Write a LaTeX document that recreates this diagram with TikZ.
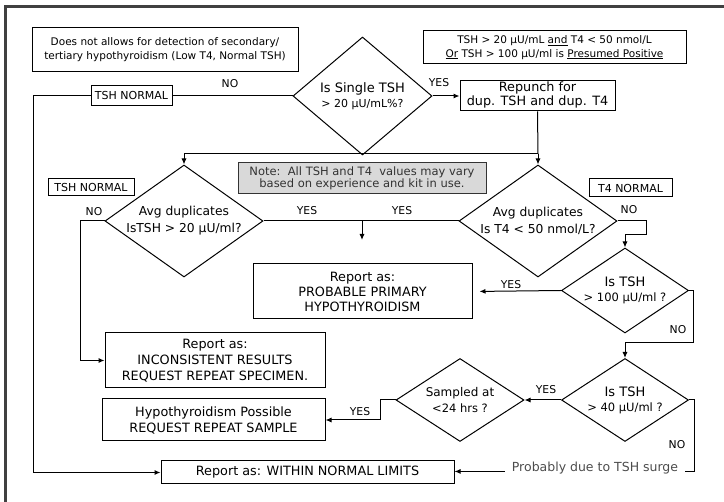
\documentclass[tikz,border=0pt]{standalone}
\usepackage{fontspec}
\setmainfont{DejaVu Sans}
\usetikzlibrary{positioning,arrows.meta,shapes.geometric}

\begin{document}
\begin{tikzpicture}[x=1pt, y=-1pt,
  every node/.style={font=\fontsize{12.8}{16}\selectfont},
  box/.style 2 args={draw, line width=1pt, inner sep=0pt, align=center, minimum width=#1pt, minimum height=#2pt},
  dia/.style 2 args={diamond, draw, line width=1pt, inner sep=0pt, minimum width=#1pt, minimum height=#2pt},
  dtxt/.style={inner sep=0pt, align=center},
  tag/.style={draw, fill=white, line width=1pt, inner sep=0pt, font=\fontsize{11}{13}\selectfont},
  lbl/.style={inner sep=0pt, font=\fontsize{10.8}{12}\selectfont},
  link/.style={line width=1pt},
  arr/.style={link, -{Latex[length=6pt,width=5pt]}}
]
  \useasboundingbox (0,0) rectangle (724,502);
  \draw[line width=3pt, black!75] (5,7) rectangle (760,530);

  % notes at the top
  \node[box={266}{44}, font=\fontsize{10.5}{14}\selectfont] (lim) at (165,50)
    {Does not allows for detection of secondary/\\tertiary hypothyroidism (Low T4, Normal TSH)};
  \node[box={263}{33}, font=\fontsize{10.5}{13.5}\selectfont] (pos) at (554.5,47.5)
    {TSH > 20 µU/mL \underline{and} T4 < 50 nmol/L\\\underline{Or} TSH > 100 µU/ml is \underline{Presumed Positive}};

  % decisions
  \node[dia={139}{118}] (d1) at (362.5,96) {};
  \node[dtxt, font=\fontsize{13}{15}\selectfont] (d1t) at (d1) {Is Single TSH\\{\fontsize{11}{15}\selectfont > 20 µU/mL\%?}};
  \node[dia={158}{112}] (d2) at (184,221) {};
  \node[dtxt, font=\fontsize{12.3}{17}\selectfont] (d2t) at (d2) {Avg duplicates\\IsTSH > 20 µU/ml?};
  \node[dia={158}{112}] (d3) at (538,221) {};
  \node[dtxt, font=\fontsize{12.3}{17}\selectfont] (d3t) at (d3) {Avg duplicates\\Is T4 < 50 nmol/L?};
  \node[dia={127}{85}] (d4) at (625,290.5) {};
  \node[dtxt, font=\fontsize{13}{15}\selectfont] (d4t) at (d4) {Is TSH\\{\fontsize{11.5}{15}\selectfont > 100 µU/ml ?}};
  \node[dia={127}{83}] (d5) at (625,400) {};
  \node[dtxt, font=\fontsize{13}{15}\selectfont] (d5t) at (d5) {Is TSH\\{\fontsize{11.5}{15}\selectfont > 40 µU/ml ?}};
  \node[dia={128}{83}] (samp) at (460,400) {};
  \node[dtxt, font=\fontsize{12}{16}\selectfont] (sampt) at (samp) {Sampled at\\{\fontsize{11.5}{16}\selectfont <24 hrs ?}};

  % results
  \node[box={155}{30}, font=\fontsize{12.8}{14.5}\selectfont] (rep) at (537.5,96) {Repunch for\\\underline{dup. TSH and dup. T4}};
  \node[box={248}{31}, fill=black!15, draw=black!80, text=black!80, font=\fontsize{11.5}{12.5}\selectfont] (note) at (362,178.5)
    {Note:\ \ All TSH and T4\ \ values may vary\\based on experience and kit in use.};
  \node[box={219}{55}, font=\fontsize{12.8}{15}\selectfont] (prob) at (362.5,291.5) {Report as:\\PROBABLE PRIMARY\\HYPOTHYROIDISM};
  \node[box={220}{55}] (incon) at (215,360.5) {Report as:\\INCONSISTENT RESULTS\\REQUEST REPEAT SPECIMEN.};
  \node[box={223}{42}] (hypo) at (213.5,420) {Hypothyroidism Possible\\REQUEST REPEAT SAMPLE};
  \node[box={293}{23}] (wnl) at (307.5,472.5) {Report as: WITHIN NORMAL LIMITS};
  \node[inner xsep=7pt, inner ysep=0pt, text=black!70, font=\fontsize{12.5}{14}\selectfont] (surge) at (595,468) {Probably due to TSH surge};

  \node[tag, minimum width=81pt, minimum height=20pt] (tshn1) at (131.5,96) {TSH NORMAL};
  \node[tag, minimum width=86pt, minimum height=17pt] (tshn2) at (91,187.5) {TSH NORMAL};
  \node[tag, minimum width=83pt, minimum height=18pt] (t4n) at (630.5,188) {T4 NORMAL};

  % bends
  \coordinate (lft) at (33,96);
  \coordinate (j1) at (538,154);
  \coordinate (l2) at (80,221);
  \coordinate (mid) at (362,221);
  \coordinate (midend) at (362,240);
  \coordinate (r3) at (646,221);
  \coordinate (r3b) at (646,235);
  \coordinate (r4) at (693,290.5);
  \coordinate (r4b) at (693,343);
  \coordinate (s1) at (380,400);
  \coordinate (r5) at (694,400);

  \draw[link] (d1.west) -- (tshn1.east);
  \draw[arr] (tshn1.west) -- (lft) |- (wnl.west);
  \draw[arr] (d1.east) -- (rep.west);
  \draw[link] (rep.south) -- (j1);
  \draw[arr] (j1) -- (d3.north);
  \draw[arr] (j1) -| (d2.north);
  \draw[arr] (d2.west) -- (l2) |- (incon.west);
  \draw[link] (d2.east) -- (d3.west);
  \draw[arr] (mid) -- (midend);
  \draw[arr] (d3.east) -- (r3) -- (r3b) -| (d4.north);
  \draw[arr, shorten >=7pt] (d4.west) -- (prob.east);
  \draw[arr] (d4.east) -- (r4) -- (r4b) -| (d5.north);
  \draw[arr] (d5.west) -- (samp.east);
  \draw[arr] (samp.west) -- (s1) |- (hypo.east);
  \draw[link] (d5.east) -- (r5) |- (surge.base east);
  \draw[arr] (surge.base west) -- (wnl.east |- surge.base west);

  % branch labels
  \node[lbl] (no1) at (230,84) {NO};
  \node[lbl] (yes1) at (439,83) {YES};
  \node[lbl] (no2) at (94,212) {NO};
  \node[lbl] (yes2) at (307,211) {YES};
  \node[lbl] (yes3) at (402,211) {YES};
  \node[lbl] (no3) at (629,210) {NO};
  \node[lbl] (yes4) at (511,285) {YES};
  \node[lbl] (no4) at (678,330) {NO};
  \node[lbl] (yes5) at (546,390) {YES};
  \node[lbl] (yes6) at (360,412) {YES};
  \node[lbl] (no5) at (677,445) {NO};
\end{tikzpicture}
\end{document}
